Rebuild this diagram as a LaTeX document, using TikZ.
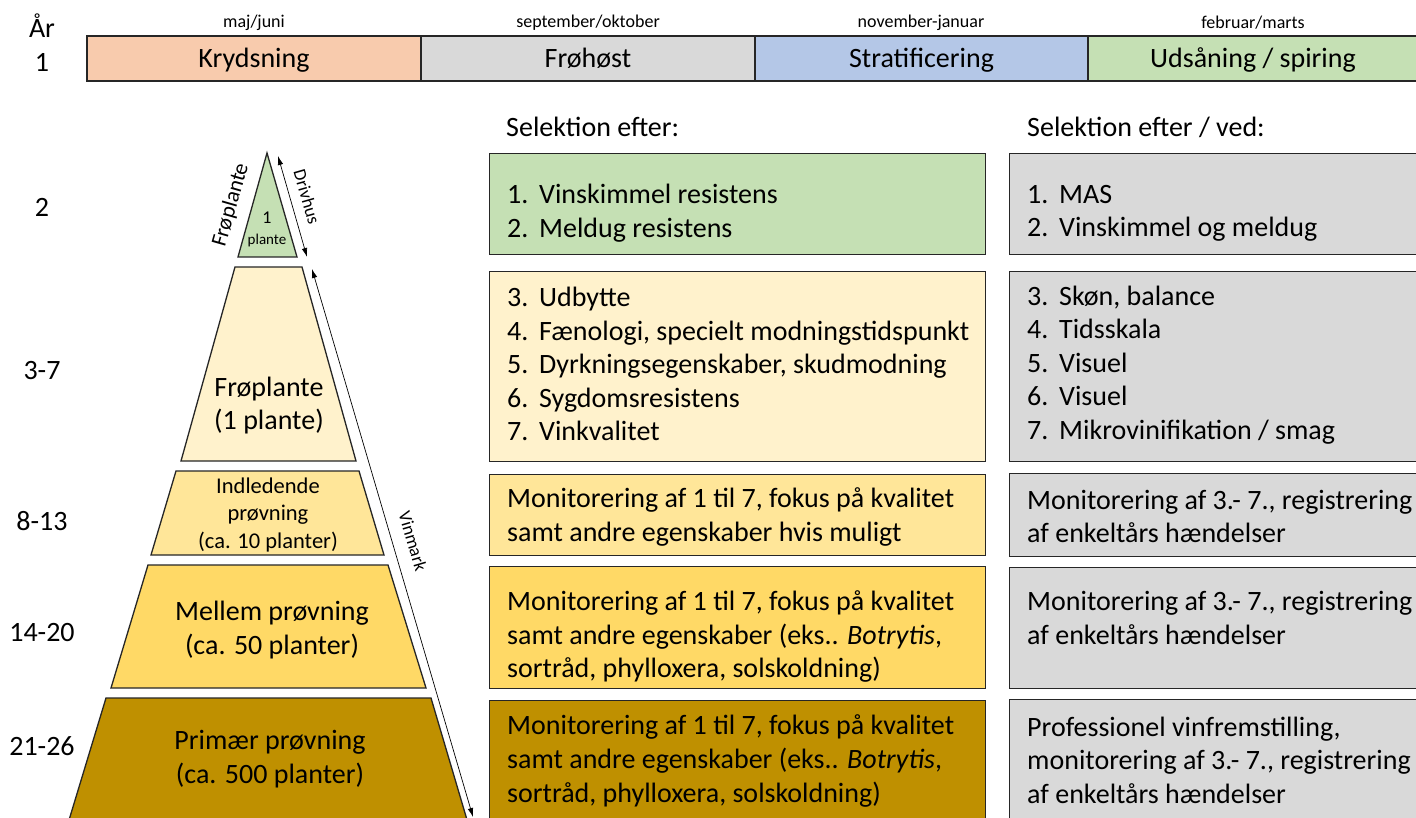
\documentclass[tikz,border=0pt]{standalone}
\usepackage{fontspec}
\setmainfont{Carlito}
\usetikzlibrary{arrows.meta}
\definecolor{peach}{HTML}{F8CBAD}
\definecolor{lgray}{HTML}{D9D9D9}
\definecolor{lblue}{HTML}{B4C7E7}
\definecolor{lgreen}{HTML}{C5E0B4}
\definecolor{yA}{HTML}{FFF2CC}
\definecolor{yB}{HTML}{FFE699}
\definecolor{yC}{HTML}{FFD966}
\definecolor{yD}{HTML}{BF9000}
\newcommand{\itm}[1]{\makebox[32pt][l]{#1}}
\tikzset{
  big/.style={font=\fontsize{28}{33.6}\selectfont},
  midf/.style={font=\fontsize{22.5}{27.5}\selectfont},
  smallf/.style={font=\fontsize{18}{21.6}\selectfont},
  edge/.style={draw=black!85, line width=1.3pt},
  seg/.style={edge, minimum height=45pt, inner sep=0pt, big, text height=19pt, text depth=0pt},
  txt/.style={inner sep=0pt},
  boxm/.style={edge, minimum width=496pt, anchor=north west, inner sep=0pt},
  boxr/.style={edge, fill=lgray, minimum width=421pt, anchor=north west, inner sep=0pt},
  arr/.style={{Latex[length=9pt,width=5.5pt]}-{Latex[length=9pt,width=5.5pt]}, line width=0.7pt},
}
\begin{document}
\begin{tikzpicture}[x=1pt,y=-1pt]
\clip (0,0) rectangle (1416,818);
\fill[white] (0,0) rectangle (1416,818);

% top bar
\node[seg, fill=peach, minimum width=334pt] (kry) at (254,58.5) {Krydsning};
\node[seg, fill=lgray, minimum width=334pt] (fro) at (588,58.5) {Frøhøst};
\node[seg, fill=lblue, minimum width=333pt] (str) at (921.5,58.5) {Stratificering};
\node[seg, fill=lgreen, minimum width=330pt] (uds) at (1253,58.5) {Udsåning / spiring};
\node[txt, smallf] (mon1) at (254,23) {maj/juni};
\node[txt, smallf] (mon2) at (588,23) {september/oktober};
\node[txt, smallf] (mon3) at (921,23) {november-januar};
\node[txt, smallf] (mon4) at (1253,23) {februar/marts};

% year labels
\node[txt, big] (yr) at (42,26) {År};
\node[txt, big] (y1) at (42,62) {1};
\node[txt, big] (y2) at (42,207) {2};
\node[txt, big] (y3) at (42,371) {3-7};
\node[txt, big] (y4) at (42,521) {8-13};
\node[txt, big] (y5) at (42,633) {14-20};
\node[txt, big] (y6) at (42,746) {21-26};

% headers
\node[txt, big, anchor=west] (h1) at (506,127) {Selektion efter:};
\node[txt, big, anchor=west] (h2) at (1027,127) {Selektion efter / ved:};

% middle boxes
\node[boxm, fill=lgreen, minimum height=101pt] (m1) at (489,153) {};
\node[boxm, fill=yA, minimum height=190pt] (m2) at (489,271) {};
\node[boxm, fill=yB, minimum height=81pt] (m3) at (489,474) {};
\node[boxm, fill=yC, minimum height=122pt] (m4) at (489,566) {};
\node[boxm, fill=yD, minimum height=140pt] (m5) at (489,700) {};

\node[txt, big, align=left, anchor=west] (m1t) at (507,213)
  {\itm{1.}Vinskimmel resistens\\\itm{2.}Meldug resistens};
\node[txt, big, align=left, anchor=west] (m2t) at (507,364)
  {\itm{3.}Udbytte\\\itm{4.}Fænologi, specielt modningstidspunkt\\\itm{5.}Dyrkningsegenskaber, skudmodning\\\itm{6.}Sygdomsresistens\\\itm{7.}Vinkvalitet};
\node[txt, big, align=left, anchor=west] (m3t) at (507,517)
  {Monitorering af 1 til 7, fokus på kvalitet\\samt andre egenskaber hvis muligt};
\node[txt, big, align=left, anchor=west] (m4t) at (507,636.5)
  {Monitorering af 1 til 7, fokus på kvalitet\\samt andre egenskaber (eks.. \textit{Botrytis},\\sortråd, phylloxera, solskoldning)};
\node[txt, big, align=left, anchor=west] (m5t) at (507,761)
  {Monitorering af 1 til 7, fokus på kvalitet\\samt andre egenskaber (eks.. \textit{Botrytis},\\sortråd, phylloxera, solskoldning)};

% right boxes
\node[boxr, minimum height=101pt] (r1) at (1009,153) {};
\node[boxr, minimum height=190pt] (r2) at (1009,271) {};
\node[boxr, minimum height=83pt] (r3) at (1009,473) {};
\node[boxr, minimum height=121pt] (r4) at (1009,567) {};
\node[boxr, minimum height=140pt] (r5) at (1009,699) {};

\node[txt, big, align=left, anchor=west] (r1t) at (1027,213.5)
  {\itm{1.}MAS\\\itm{2.}Vinskimmel og meldug};
\node[txt, big, align=left, anchor=west] (r2t) at (1027,365)
  {\itm{3.}Skøn, balance\\\itm{4.}Tidsskala\\\itm{5.}Visuel\\\itm{6.}Visuel\\\itm{7.}Mikrovinifikation / smag};
\node[txt, big, align=left, anchor=west] (r3t) at (1027,516.5)
  {Monitorering af 3.- 7., registrering\\af enkeltårs hændelser};
\node[txt, big, align=left, anchor=west] (r4t) at (1027,618)
  {Monitorering af 3.- 7., registrering\\af enkeltårs hændelser};
\node[txt, big, align=left, anchor=west] (r5t) at (1027,760)
  {Professionel vinfremstilling,\\monitorering af 3.- 7., registrering\\af enkeltårs hændelser};

% pyramid
\draw[edge, fill=lgreen] (267,153) -- (297,257) -- (238,257) -- cycle;
\draw[edge, fill=yA] (235,267) -- (302,267) -- (356,461) -- (181,461) -- cycle;
\draw[edge, fill=yB] (176,471) -- (359,471) -- (384,555) -- (151,555) -- cycle;
\draw[edge, fill=yC] (148,565) -- (388,565) -- (426,688) -- (111,688) -- cycle;
\draw[edge, fill=yD] (106,698) -- (431,698) -- (470,830) -- (66,830) -- cycle;

\node[txt, font=\fontsize{18}{21}\selectfont] (t1) at (267,218) {1};
\node[txt, font=\fontsize{15}{18}\selectfont] (t2) at (267,241) {plante};
\node[txt, big, align=center] (p1) at (269,405.5) {Frøplante\\(1 plante)};
\node[txt, midf, align=center] (p2) at (268,514.5) {Indledende\\prøvning\\(ca. 10 planter)};
\node[txt, big, align=center] (p3) at (272,630) {Mellem prøvning\\(ca. 50 planter)};
\node[txt, big, align=center] (p4) at (270,759) {Primær prøvning\\(ca. 500 planter)};

\node[txt, font=\fontsize{22}{26}\selectfont, rotate=74] (fp) at (231,205) {Frøplante};

% arrows
\coordinate (d1) at (278,156);
\coordinate (d2) at (307,257);
\draw[arr] (d1) -- (d2);
\node[txt, smallf, rotate=-74] (dl) at (307,197) {Drivhus};
\coordinate (v1) at (312,269);
\coordinate (v2) at (473,817);
\draw[arr] (v1) -- (v2);
\node[txt, smallf, rotate=-73.6] (vl) at (413,541) {Vinmark};
\end{tikzpicture}
\end{document}
